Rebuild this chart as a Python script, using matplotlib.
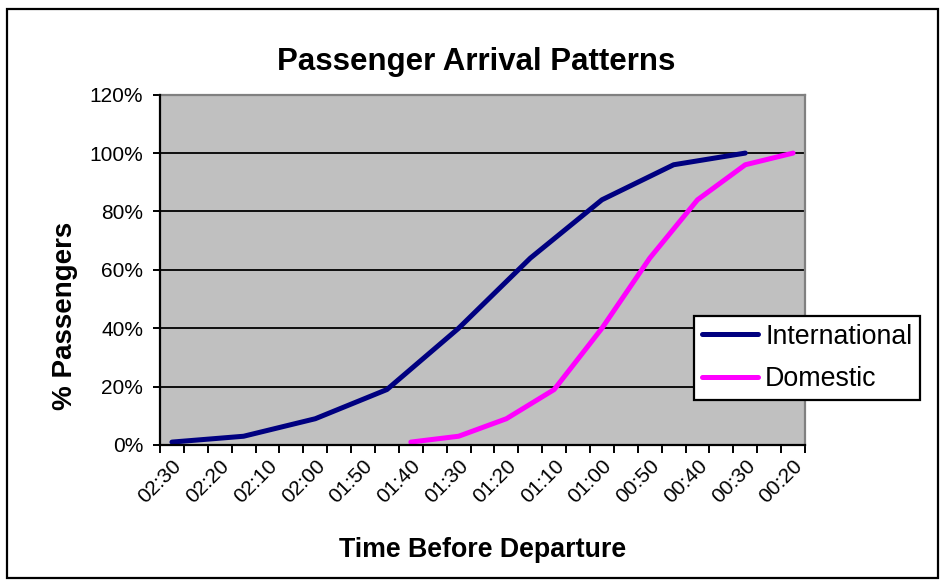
import matplotlib
matplotlib.use("Agg")
import matplotlib.pyplot as plt
from matplotlib.patches import Rectangle
from matplotlib.ticker import FixedLocator, FixedFormatter

# Time-before-departure categories (5-minute steps)
categories = ['02:30', '02:25', '02:20', '02:15', '02:10', '02:05', '02:00',
              '01:55', '01:50', '01:45', '01:40', '01:35', '01:30', '01:25',
              '01:20', '01:15', '01:10', '01:05', '01:00', '00:55', '00:50',
              '00:45', '00:40', '00:35', '00:30', '00:25', '00:20']
tick_labels = ['02:30', '02:20', '02:10', '02:00', '01:50', '01:40', '01:30',
               '01:20', '01:10', '01:00', '00:50', '00:40', '00:30', '00:20']

intl_times = ['02:30', '02:15', '02:00', '01:45', '01:30', '01:15', '01:00', '00:45', '00:30']
intl_pct = [1, 3, 9, 19, 40, 64, 84, 96, 100]

dom_times = ['01:40', '01:30', '01:20', '01:10', '01:00', '00:50', '00:40', '00:30', '00:20']
dom_pct = [1, 3, 9, 19, 40, 64, 84, 96, 100]

y_ticks = [0, 20, 40, 60, 80, 100, 120]

plt.rcParams['font.family'] = ['Liberation Sans', 'DejaVu Sans']

W, H = 947, 580
fig = plt.figure(figsize=(W / 100, H / 100), dpi=100)
fig.patch.set_facecolor('white')

# outer chart border
fig.patches.append(Rectangle((7 / W, 1 - 578 / H), (938 - 7) / W, (578 - 9) / H,
                             transform=fig.transFigure, fill=False,
                             edgecolor='black', linewidth=1.6))

left, right, top, bottom = 160, 805, 94.7, 445
ax = fig.add_axes([left / W, 1 - bottom / H, (right - left) / W, (bottom - top) / H])
ax.set_facecolor('#C0C0C0')

xi = [categories.index(t) for t in intl_times]
xd = [categories.index(t) for t in dom_times]
ax.plot(xi, intl_pct, color='#000080', lw=3.6, solid_capstyle='round',
        solid_joinstyle='round', label='International', zorder=3)
ax.plot(xd, dom_pct, color='#FF00FF', lw=3.6, solid_capstyle='round',
        solid_joinstyle='round', label='Domestic', zorder=3)

n = len(categories)
ax.set_xlim(-0.5, n - 0.5)
ax.set_ylim(0, 120)

# tick marks between categories, labels on every second category
ax.xaxis.set_major_locator(FixedLocator([i - 0.5 for i in range(n + 1)]))
ax.xaxis.set_major_formatter(FixedFormatter([''] * (n + 1)))
label_pos = [categories.index(t) for t in tick_labels]
ax.xaxis.set_minor_locator(FixedLocator(label_pos))
ax.xaxis.set_minor_formatter(FixedFormatter(tick_labels))
ax.tick_params(axis='x', which='major', direction='out', length=5.5, width=1.4, color='black')
ax.tick_params(axis='x', which='minor', length=0, pad=8, labelsize=15)
for lbl in ax.get_xticklabels(minor=True):
    lbl.set_rotation(45)
    lbl.set_ha('right')
    lbl.set_va('top')
    lbl.set_rotation_mode('anchor')

ax.set_yticks(y_ticks)
ax.set_yticklabels([f'{v}%' for v in y_ticks])
ax.tick_params(axis='y', direction='out', length=5, width=1.4, color='black',
               pad=7, labelsize=15)

ax.yaxis.grid(True, color='black', linewidth=1.3)
ax.xaxis.grid(False)
ax.set_axisbelow(True)

ax.spines['left'].set_color('black')
ax.spines['left'].set_linewidth(1.6)
ax.spines['bottom'].set_color('black')
ax.spines['bottom'].set_linewidth(1.6)
ax.spines['top'].set_color('#808080')
ax.spines['top'].set_linewidth(1.6)
ax.spines['right'].set_color('#808080')
ax.spines['right'].set_linewidth(1.6)
ax.spines['left'].set_zorder(4)
ax.spines['bottom'].set_zorder(4)

fig.text(476.5 / W, 1 - 70 / H, 'Passenger Arrival Patterns', ha='center',
         va='baseline', fontsize=22.5, fontweight='bold')
fig.text(482.5 / W, 1 - 557 / H, 'Time Before Departure', ha='center',
         va='baseline', fontsize=19.3, fontweight='bold')
fig.text(72 / W, 1 - 315.7 / H, '% Passengers', ha='center', va='baseline',
         rotation=90, rotation_mode='anchor', fontsize=20, fontweight='bold')

leg = ax.legend(loc='upper left', bbox_to_anchor=(694 / W, 1 - 315.7 / H),
                bbox_transform=fig.transFigure, borderaxespad=0, fontsize=19.3,
                handlelength=2.1, handletextpad=0.25, borderpad=0.3,
                labelspacing=0.62, fancybox=False, framealpha=1,
                edgecolor='black')
leg.get_frame().set_linewidth(1.6)
leg.set_zorder(5)

fig.savefig('out.png', dpi=100)
